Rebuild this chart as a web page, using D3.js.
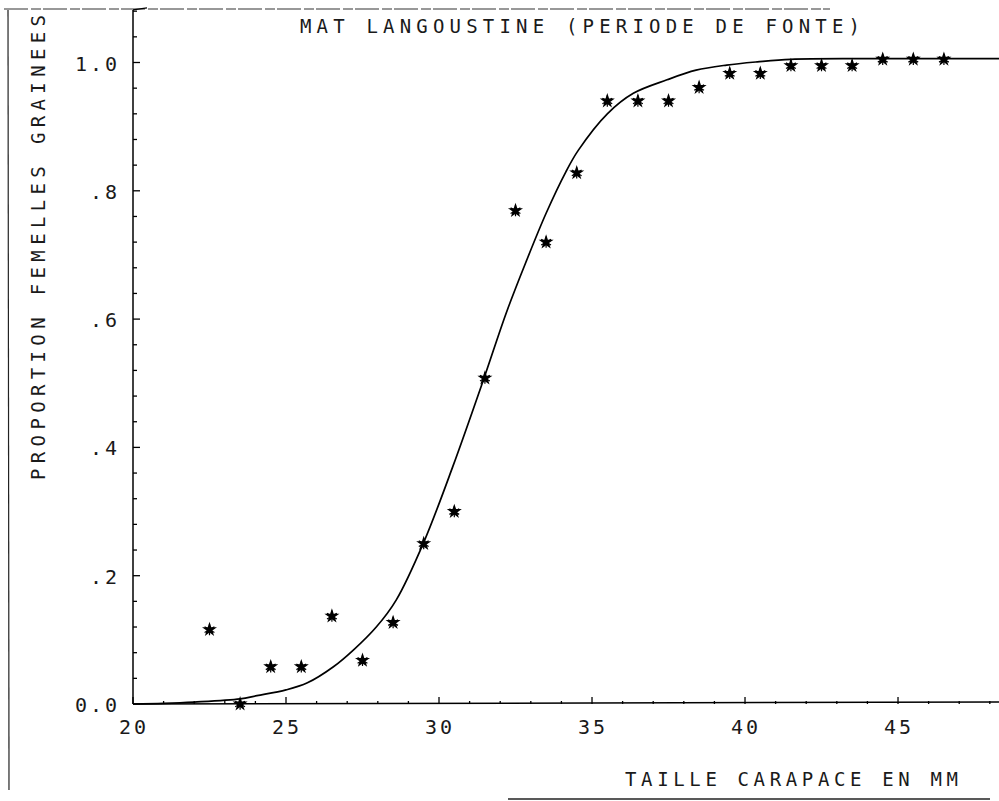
<!DOCTYPE html>
<html>
<head>
<meta charset="utf-8">
<script src="https://cdn.jsdelivr.net/npm/d3@7"></script>
<style>
  body { margin: 0; background: #fff; }
  text { font-family: "DejaVu Sans Mono", monospace; fill: #1a1a1a; }
</style>
</head>
<body>
<div id="chart"></div>
<script>
// observed proportions (one star per 1 mm class)
var sizeClass = [22.5, 23.5, 24.5, 25.5, 26.5, 27.5, 28.5, 29.5, 30.5, 31.5, 32.5, 33.5, 34.5,
                 35.5, 36.5, 37.5, 38.5, 39.5, 40.5, 41.5, 42.5, 43.5, 44.5, 45.5, 46.5]
var propMature = [0.116, 0.0, 0.058, 0.058, 0.137, 0.068, 0.127, 0.25, 0.30, 0.508, 0.769, 0.72, 0.828,
                  0.94, 0.94, 0.94, 0.961, 0.983, 0.983, 0.995, 0.995, 0.995, 1.005, 1.005, 1.005]

// fitted curve
var curveX = [20, 21, 22, 23.5, 24.05, 25.0, 25.7, 26.55, 27.2, 27.95, 28.6, 29.5, 30.45, 31.45,
              32.2, 32.85, 33.5, 34.15, 34.55, 35.5, 36.35, 37.45, 38.4, 39.4, 40.4, 41.5, 44, 48.3]
var curveY = [0, 0.001, 0.003, 0.008, 0.013, 0.022, 0.033, 0.058, 0.084, 0.12, 0.162, 0.252, 0.37, 0.505,
              0.61, 0.69, 0.765, 0.83, 0.863, 0.92, 0.952, 0.973, 0.988, 0.996, 1.001, 1.005, 1.006, 1.006]

var xTicks = [20, 25, 30, 35, 40, 45]
var yTicks = [0, 0.2, 0.4, 0.6, 0.8, 1.0]
var yTickLabels = ["0.0", ".2", ".4", ".6", ".8", "1.0"]

var title = "MAT LANGOUSTINE (PERIODE DE FONTE)"
var xTitle = "TAILLE CARAPACE EN MM"
var yTitle = "PROPORTION FEMELLES GRAINEES"

var W = 999, H = 801

var svg = d3.select("#chart")
  .append("svg")
    .attr("width", W)
    .attr("height", H)

svg.append("rect").attr("width", W).attr("height", H).attr("fill", "#fff")

// scales
var x = d3.scaleLinear().domain([20, 48.3]).range([133, 999])
var y = d3.scaleLinear().domain([0, 1.0]).range([704, 62.5])
var yTop = 1.082

// page scan borders
svg.append("line")
  .attr("x1", 4).attr("x2", 830).attr("y1", 9).attr("y2", 9)
  .attr("stroke", "#333").attr("stroke-width", 1.2)
  .style("stroke-dasharray", "24,3,10,2")
svg.append("line")
  .attr("x1", 8).attr("x2", 9).attr("y1", 10).attr("y2", 790)
  .attr("stroke", "#222").attr("stroke-width", 1.2)
svg.append("line")
  .attr("x1", 508).attr("x2", 990).attr("y1", 799).attr("y2", 799)
  .attr("stroke", "#222").attr("stroke-width", 1.5)

// y axis line + ticks (pointing inward)
svg.append("line")
  .attr("x1", x(20)).attr("x2", x(20))
  .attr("y1", y(0)).attr("y2", y(yTop))
  .attr("stroke", "#000").attr("stroke-width", 1.5)
svg.append("line")
  .attr("x1", x(20)).attr("x2", x(20) + 14)
  .attr("y1", y(yTop)).attr("y2", y(yTop) - 2)
  .attr("stroke", "#000").attr("stroke-width", 1.2)

var yMinor = d3.range(0, 1.081, 0.04)
svg.append("g")
  .selectAll("line")
  .data(yMinor)
  .enter()
  .append("line")
    .attr("x1", x(20))
    .attr("x2", function (d) { return x(20) + (Math.abs(d * 5 - Math.round(d * 5)) < 1e-6 ? 7 : 4) })
    .attr("y1", function (d) { return y(d) })
    .attr("y2", function (d) { return y(d) })
    .attr("stroke", "#000").attr("stroke-width", 1.3)

svg.append("g")
  .selectAll("text")
  .data(yTicks)
  .enter()
  .append("text")
    .attr("x", 120)
    .attr("y", function (d) { return y(d) + 8 })
    .attr("text-anchor", "end")
    .style("font-size", "20px")
    .style("letter-spacing", "3px")
    .text(function (d, i) { return yTickLabels[i] })

// x axis line + ticks
svg.append("line")
  .attr("x1", x(20)).attr("x2", W)
  .attr("y1", y(0)).attr("y2", y(0) - 2)
  .attr("stroke", "#000").attr("stroke-width", 1.5)

var xMinor = d3.range(20, 49, 1)
svg.append("g")
  .selectAll("line")
  .data(xMinor)
  .enter()
  .append("line")
    .attr("x1", function (d) { return x(d) })
    .attr("x2", function (d) { return x(d) })
    .attr("y1", y(0))
    .attr("y2", function (d) { return y(0) - (d % 5 === 0 ? 7 : 3) })
    .attr("stroke", "#000").attr("stroke-width", 1.3)

svg.append("g")
  .selectAll("text")
  .data(xTicks)
  .enter()
  .append("text")
    .attr("x", function (d) { return x(d) + 1 })
    .attr("y", 734)
    .attr("text-anchor", "middle")
    .style("font-size", "20px")
    .style("letter-spacing", "3px")
    .text(function (d) { return d })

// titles
svg.append("text")
  .attr("x", 300).attr("y", 33)
  .attr("textLength", 560).attr("lengthAdjust", "spacing")
  .style("font-size", "19px")
  .text(title)

svg.append("text")
  .attr("x", 625).attr("y", 786)
  .attr("textLength", 333).attr("lengthAdjust", "spacing")
  .style("font-size", "19px")
  .text(xTitle)

svg.append("text")
  .attr("transform", "translate(45,480) rotate(-90)")
  .attr("textLength", 465).attr("lengthAdjust", "spacing")
  .style("font-size", "19px")
  .text(yTitle)

// fitted curve
var curveData = curveX.map(function (d, i) { return [d, curveY[i]] })
svg.append("path")
  .datum(curveData)
  .attr("fill", "none")
  .attr("stroke", "#000")
  .attr("stroke-width", 1.7)
  .attr("d", d3.line()
    .x(function (d) { return x(d[0]) })
    .y(function (d) { return y(d[1]) })
    .curve(d3.curveCatmullRom.alpha(0.5)))

// stars
var points = sizeClass.map(function (d, i) { return { size: d, prop: propMature[i] } })
var stars = svg.append("g")
  .selectAll("g")
  .data(points)
  .enter()
  .append("g")
    .attr("transform", function (d) { return "translate(" + x(d.size) + "," + y(d.prop) + ")" })

stars.append("path")
  .attr("d", d3.symbol().type(d3.symbolStar).size(70))
  .attr("fill", "#000")
stars.append("path")
  .attr("d", d3.symbol().type(d3.symbolAsterisk).size(90))
  .attr("fill", "none")
  .attr("stroke", "#000")
  .attr("stroke-width", 1.2)
</script>
</body>
</html>
